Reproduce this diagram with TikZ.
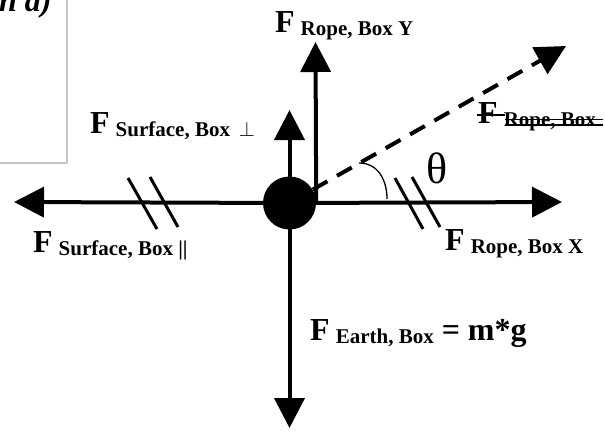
\documentclass[tikz,border=0pt]{standalone}
\usepackage{fontspec}
\setmainfont{Liberation Serif}
\usetikzlibrary{arrows.meta,calc}
\newcommand\Fbig{{\fontsize{32}{32}\selectfont\bfseries F}}
\newcommand\subt[1]{\hspace{6pt}\raisebox{-3pt}{\fontsize{21}{21}\selectfont\bfseries #1}}
\begin{document}
\begin{tikzpicture}[x=1pt,y=-1pt,
  vec/.style={line width=4pt,-{Triangle[length=30pt,width=30pt]}},
  tick/.style={line width=3pt},
  lab/.style={inner sep=0pt,anchor=base west}]
\useasboundingbox (0,0) rectangle (605,432);
% partial box top left
\draw[black!22,line width=1.5pt] (-10,-10) rectangle (67,163);
\node[lab] (cap) at (-1,11) {\fontsize{32}{32}\selectfont\bfseries\itshape n a)};
% body
\node[circle,fill=black,minimum size=53pt,inner sep=0pt] (c) at (289.5,203) {};
\coordinate (L) at (14,202);
\coordinate (R) at (562,202);
\coordinate (D) at (289.5,428);
\coordinate (SP) at (289.5,110);
\coordinate (RY) at (315.5,42);
\coordinate (RP) at (566,46);
\draw[vec] (c.center) -- (L);
\draw[vec] (c.center) -- (R);
\draw[vec] (c.center) -- (D);
\draw[vec] (c.center) -- (SP);
\draw[vec] (c.east) -- (RY);
\draw[vec,dash pattern=on 17pt off 11pt] (c.30) -- (RP);
% ticks
\draw[tick] (128,178) -- (157,229);
\draw[tick] (150,177) -- (178,227);
\draw[tick] (395,178) -- (423,229);
\draw[tick] (412,177) -- (440,227);
% angle arc
\draw[line width=1.3pt] (359,163) .. controls (378,163) and (387,180) .. (387,199);
% labels
\node[lab] (fy) at (275,32) {\Fbig\subt{Rope, Box Y}};
\node[lab] (fp) at (90,133) {\Fbig\subt{Surface, Box \,$\perp$}};
\node[lab] (fl) at (33,252) {\Fbig\subt{Surface, Box ||}};
\node[lab] (fx) at (445,250) {\Fbig\subt{Rope, Box X}};
\node[lab] (fe) at (310,340) {\Fbig\subt{Earth, Box}{\fontsize{32}{32}\selectfont\bfseries\ = m*g}};
\node[lab] (th) at (426,183) {\fontsize{44}{44}\selectfont θ};
\node[lab] (fs) at (478,123) {\Fbig\subt{Rope, Box}};
\draw[line width=2pt] ($(fs.base west)+(-1,-8)$) -- ($(fs.base west)+(27,-8)$);
\draw[line width=1.5pt] ($(fs.base west)+(27,-3.5)$) -- ($(fs.base west)+(125,-3.5)$);
\draw[line width=1.5pt] ($(fs.base west)+(27,2)$) -- ($(fs.base west)+(125,2)$);
\end{tikzpicture}
\end{document}
